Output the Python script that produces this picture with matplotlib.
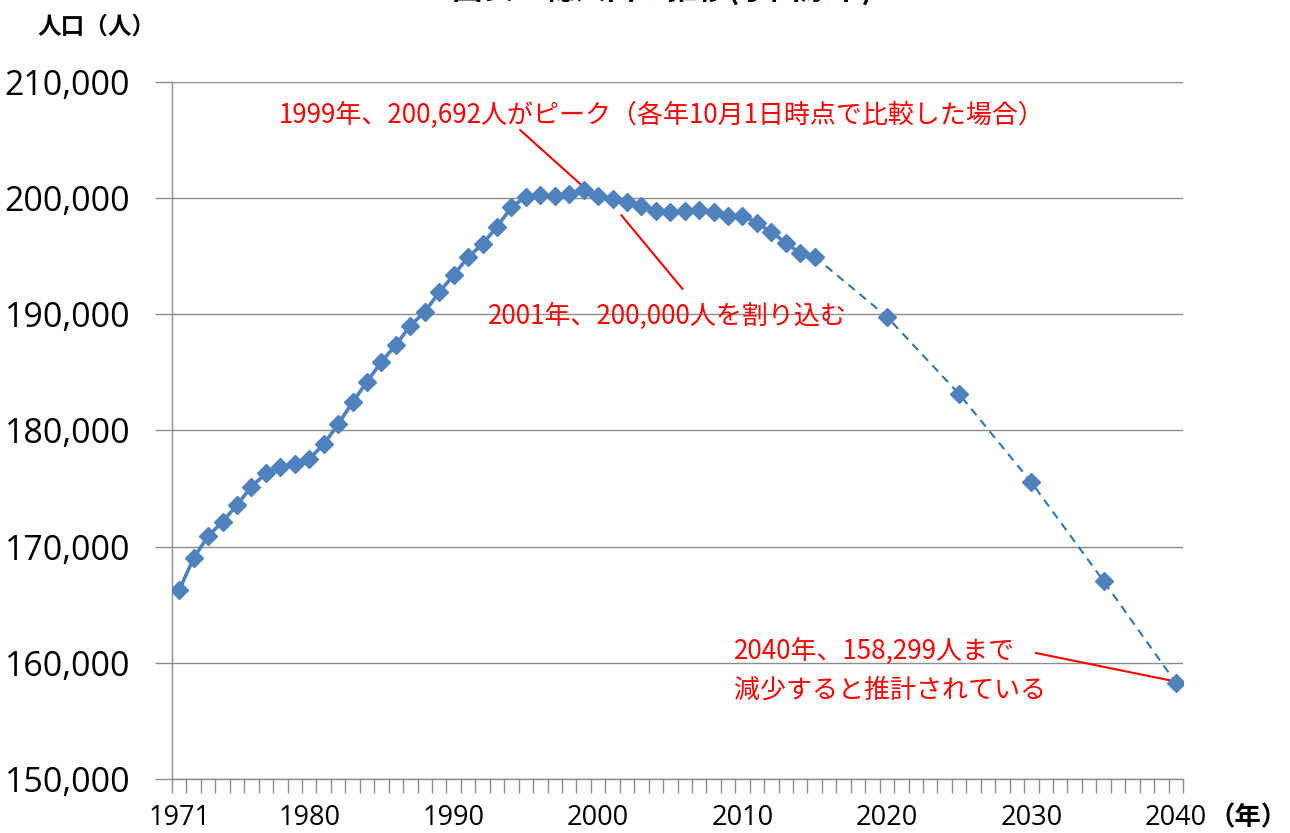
import matplotlib
matplotlib.use("Agg")
import matplotlib.pyplot as plt
from matplotlib.ticker import FuncFormatter, FixedLocator

plt.rcParams['font.family'] = ['Noto Sans CJK JP', 'DejaVu Sans']

# 実績値（各年10月1日）
years = list(range(1971, 2016))
pop = [166270, 169020, 170920, 172150, 173590, 175160, 176310, 176880, 177120, 177550,
       178810, 180530, 182430, 184180, 185930, 187360, 189020, 190230, 191890, 193390,
       194910, 196050, 197540, 199210, 200130, 200270, 200190, 200360, 200692, 200200,
       199900, 199630, 199340, 198900, 198780, 198900, 198960, 198820, 198470, 198470,
       197890, 197060, 196170, 195250, 194960]

# 推計値
proj_years = [2015, 2020, 2025, 2030, 2035, 2040]
proj_pop = [194960, 189790, 183140, 175540, 167040, 158299]

xtick_years = [1971, 1980, 1990, 2000, 2010, 2020, 2030, 2040]
yticks = [150000, 160000, 170000, 180000, 190000, 200000, 210000]

title = "図表1  総人口の推移(小田原市)"
note_peak = "1999年、200,692人がピーク（各年10月1日時点で比較した場合）"
note_2001 = "2001年、200,000人を割り込む"
note_2040 = "2040年、158,299人まで\n減少すると推計されている"

blue = "#4F81BD"
dash_blue = "#2E75B6"
grid_gray = "#8C8C8C"
red = "#FF0000"

fig = plt.figure(figsize=(12.9, 8.33), dpi=100)
ax = fig.add_axes([172 / 1290, 1 - 779 / 833, (1183 - 172) / 1290, (779 - 82) / 833])

# dashed projection, then actual line with markers
ax.plot(proj_years, proj_pop, color=dash_blue, lw=1.5, linestyle=(0, (4, 3)), zorder=3)
ax.plot(years, pop, color=blue, lw=2.6, marker='D', markersize=8.8,
        markerfacecolor=blue, markeredgecolor=blue, zorder=4)
ax.plot(proj_years[1:], proj_pop[1:], linestyle='none', marker='D', markersize=8.8,
        markerfacecolor=blue, markeredgecolor=blue, zorder=4)

ax.set_xlim(1970.5, 2040.5)
ax.set_ylim(150000, 210000)

ax.set_yticks(yticks)
ax.yaxis.set_major_formatter(FuncFormatter(lambda v, p: f"{int(v):,}"))
ax.grid(axis='y', color=grid_gray, lw=1)
ax.set_axisbelow(True)

ax.set_xticks(xtick_years)
ax.set_xticklabels([str(y) for y in xtick_years])
ax.xaxis.set_minor_locator(FixedLocator([1970.5 + i for i in range(71)]))
ax.tick_params(axis='x', which='major', length=0, pad=18, labelsize=19.5)
ax.tick_params(axis='x', which='minor', length=10, color=grid_gray, width=1)
ax.tick_params(axis='y', which='major', length=12, color=grid_gray, width=1, pad=18, labelsize=24.5)
for lab in ax.get_xticklabels() + ax.get_yticklabels():
    lab.set_fontfamily('Open Sans')

for s in ['top', 'right']:
    ax.spines[s].set_visible(False)
for s in ['left', 'bottom']:
    ax.spines[s].set_color(grid_gray)
    ax.spines[s].set_linewidth(1)

# annotations
ax.text(1977.9, 207160, note_peak, color=red, fontsize=18.7, ha='left', va='center')
ax.annotate('', xy=(1999.0, 200960), xytext=(1994.6, 205870),
            arrowprops=dict(arrowstyle='-', color=red, lw=1.5, shrinkA=0, shrinkB=0))
ax.text(1992.35, 189855, note_2001, color=red, fontsize=18.7, ha='left', va='center')
ax.annotate('', xy=(2005.85, 192180), xytext=(2001.6, 198550),
            arrowprops=dict(arrowstyle='-', color=red, lw=1.5, shrinkA=0, shrinkB=0))
ax.text(2009.4, 159300, note_2040, color=red, fontsize=18.7, ha='left', va='center',
        linespacing=1.55)
ax.annotate('', xy=(2039.8, 158440), xytext=(2030.3, 160850),
            arrowprops=dict(arrowstyle='-', color=red, lw=1.5, shrinkA=0, shrinkB=0))

fig.text(97 / 1290, 1 - 27 / 833, "人口（人）", fontsize=17, fontweight='bold',
         ha='center', va='center')
fig.text(1288 / 1290, 1 - 818 / 833, "（年）", fontsize=19, fontweight='bold',
         ha='right', va='center')
# title is cropped at the top edge in the source image
fig.text(662 / 1290, 1 - 6 / 833, title, fontsize=22, fontweight='bold',
         ha='center', va='bottom')

fig.savefig("out.png", dpi=100)
